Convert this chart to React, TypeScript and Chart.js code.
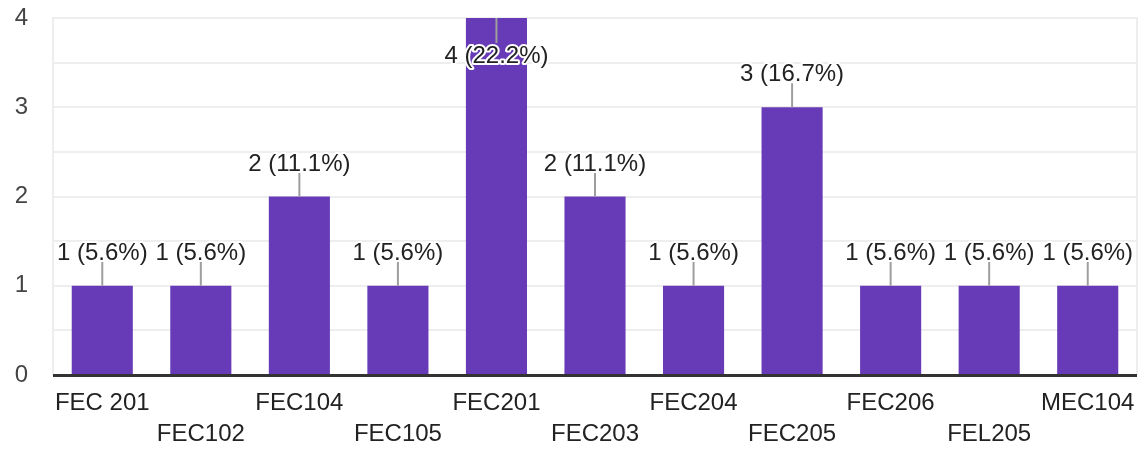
import React, { useEffect, useRef } from "react";
import { Chart, registerables } from "chart.js";

Chart.register(...registerables);

const categories = ["FEC 201", "FEC102", "FEC104", "FEC105", "FEC201", "FEC203", "FEC204", "FEC205", "FEC206", "FEL205", "MEC104"];
const counts = [1, 1, 2, 1, 4, 2, 1, 3, 1, 1, 1];
const yTicks = [0, 1, 2, 3, 4];

const BAR = "#673ab7";
const FONT = "'Liberation Sans', Arial, sans-serif";

export default function App() {
  const ref = useRef<HTMLCanvasElement | null>(null);

  useEffect(() => {
    document.body.style.margin = "0";
    const total = counts.reduce((a, b) => a + b, 0);

    const annot = {
      id: "annot",
      afterDatasetsDraw(chart: any) {
        const { ctx, chartArea } = chart;
        const meta = chart.getDatasetMeta(0);
        ctx.save();
        // right border
        ctx.strokeStyle = "#eeeeee";
        ctx.lineWidth = 2;
        ctx.beginPath();
        ctx.moveTo(chartArea.right, chartArea.top - 1);
        ctx.lineTo(chartArea.right, chartArea.bottom);
        ctx.stroke();
        // baseline
        const y0 = chart.scales.y.getPixelForValue(0);
        ctx.strokeStyle = "#333333";
        ctx.lineWidth = 3;
        ctx.beginPath();
        ctx.moveTo(chartArea.left, y0 + 0.5);
        ctx.lineTo(chartArea.right, y0 + 0.5);
        ctx.stroke();

        ctx.font = `24px ${FONT}`;
        ctx.textAlign = "center";
        ctx.textBaseline = "alphabetic";
        meta.data.forEach((bar: any, i: number) => {
          const v = counts[i];
          const pct = ((v / total) * 100).toFixed(1);
          const text = `${v} (${pct}%)`;
          const x = bar.x;
          const top = bar.y;
          let l1: number, l2: number, base: number;
          if (top - 48 < 0) {
            l1 = top;
            l2 = top + 25;
            base = top + 45;
          } else {
            l1 = top;
            l2 = top - 24;
            base = top - 26;
          }
          ctx.strokeStyle = "#9e9e9e";
          ctx.lineWidth = 2;
          ctx.beginPath();
          ctx.moveTo(x, l1);
          ctx.lineTo(x, l2);
          ctx.stroke();
          ctx.strokeStyle = "#ffffff";
          ctx.lineWidth = 4;
          ctx.lineJoin = "round";
          ctx.strokeText(text, x, base);
          ctx.fillStyle = "#222222";
          ctx.fillText(text, x, base);
        });
        ctx.restore();
      },
    };

    const chart = new Chart(ref.current as HTMLCanvasElement, {
      type: "bar",
      data: {
        labels: categories,
        datasets: [
          {
            data: counts,
            backgroundColor: BAR,
            barPercentage: 0.62,
            categoryPercentage: 1,
          },
        ],
      },
      options: {
        animation: false,
        responsive: true,
        maintainAspectRatio: false,
        layout: { padding: { top: 0, right: 3, left: 0, bottom: 0 } },
        plugins: { legend: { display: false }, tooltip: { enabled: false } },
        scales: {
          x: {
            grid: { display: false, drawTicks: false },
            border: { display: false },
            afterFit(scale: any) {
              scale.height = 76;
              scale.paddingLeft = 0;
              scale.paddingRight = 0;
            },
            ticks: {
              autoSkip: false,
              maxRotation: 0,
              minRotation: 0,
              padding: 13,
              color: "#222222",
              font: { family: FONT, size: 24, lineHeight: 1.3 },
              callback: (_v: any, i: number) => (i % 2 ? ["", categories[i]] : categories[i]),
            },
          },
          y: {
            min: 0,
            max: yTicks[yTicks.length - 1],
            afterFit(scale: any) {
              scale.width = 53;
              scale.paddingTop = 18;
              scale.paddingBottom = 0;
            },
            grid: {
              drawTicks: false,
              color: (c: any) => (c.tick && c.tick.value === 0 ? "rgba(0,0,0,0)" : "#eeeeee"),
              lineWidth: 2,
            },
            border: { display: true, color: "#eeeeee", width: 2 },
            ticks: {
              stepSize: 0.5,
              autoSkip: false,
              padding: 25,
              color: "#444444",
              font: { family: FONT, size: 24 },
              callback: (v: any) => (yTicks.includes(v) ? String(v) : ""),
            },
          },
        },
      },
      plugins: [annot],
    });
    return () => chart.destroy();
  }, []);

  return (
    <div style={{ width: 1140, height: 451, position: "relative" }}>
      <canvas ref={ref} />
    </div>
  );
}
